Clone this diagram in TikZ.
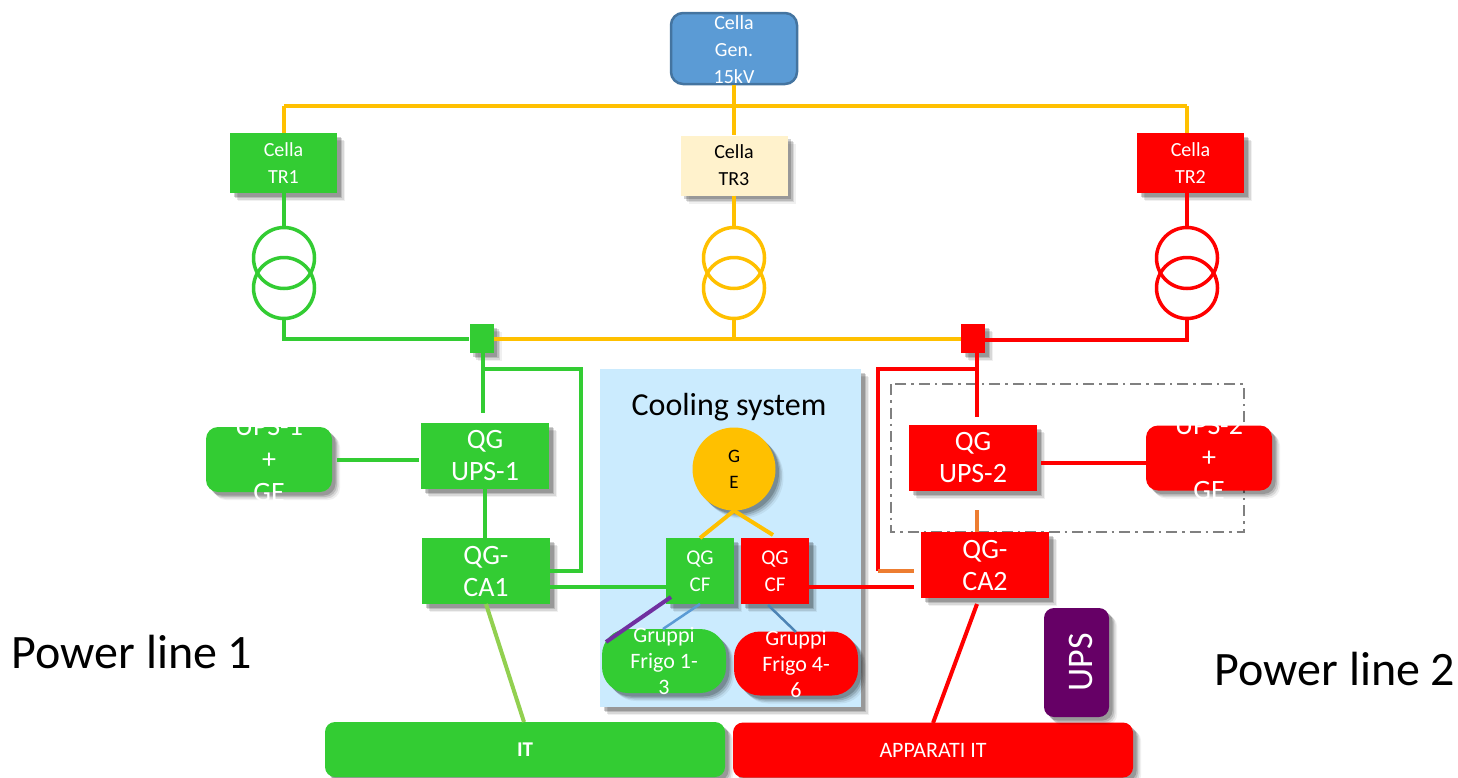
\documentclass[tikz,border=0pt]{standalone}
\usepackage{fontspec}
\setmainfont{Carlito}
\usetikzlibrary{positioning,shadows,calc}
\definecolor{linegreen}{HTML}{33CC33}
\definecolor{linered}{HTML}{FF0000}
\definecolor{lineyellow}{HTML}{FFC000}
\definecolor{lineorange}{HTML}{ED7D31}
\definecolor{lineblue}{HTML}{5B9BD5}
\definecolor{linepurple}{HTML}{7030A0}
\definecolor{linelime}{HTML}{92D050}
\definecolor{cellcream}{HTML}{FFF2CC}
\definecolor{panelblue}{HTML}{CBEBFE}
\definecolor{upspurple}{HTML}{660066}
\tikzset{
  softshadow/.style={
    drop shadow={shadow xshift=8pt,shadow yshift=-8pt,fill=black,opacity=.06},
    drop shadow={shadow xshift=6.5pt,shadow yshift=-6.5pt,fill=black,opacity=.1},
    drop shadow={shadow xshift=5pt,shadow yshift=-5pt,fill=black,opacity=.14},
    drop shadow={shadow xshift=3.5pt,shadow yshift=-3.5pt,fill=black,opacity=.18}},
  cellbox/.style={rectangle, inner sep=0pt, minimum width=107pt, minimum height=60pt, softshadow, align=center, text=white, font=\fontsize{20}{27}\selectfont},
  qgbox/.style={rectangle, inner sep=0pt, minimum width=128pt, minimum height=66pt, softshadow, align=center, text=white, font=\fontsize{28}{32}\selectfont},
  cfbox/.style={rectangle, inner sep=0pt, minimum width=68pt, minimum height=66pt, softshadow, align=center, text=white, font=\fontsize{21}{27}\selectfont},
  upsbox/.style={rectangle, rounded corners=12pt, inner sep=0pt, minimum width=126pt, minimum height=65pt, softshadow},
  upstext/.style={align=center, text=white, inner sep=0pt, font=\fontsize{28}{33}\selectfont},
  frigobox/.style={rectangle, rounded corners=26pt, inner sep=0pt, minimum width=124pt, minimum height=64pt, softshadow},
  frigotext/.style={align=center, text=white, inner sep=0pt, font=\fontsize{22}{26}\selectfont},
  itbox/.style={rectangle, rounded corners=10pt, inner sep=0pt, minimum width=400pt, minimum height=55pt, softshadow, text=white},
  barbox/.style={rectangle, inner sep=0pt, minimum width=24pt, minimum height=29pt, softshadow},
  trafo/.style={circle, draw, line width=3.5pt, inner sep=0pt, minimum size=61pt},
  wire/.style={line width=4pt},
}
\begin{document}
\begin{tikzpicture}[x=1pt,y=-1pt]
\useasboundingbox (0,0) rectangle (1458,777);
\node[rectangle, inner sep=0pt, minimum width=261pt, minimum height=338pt, fill=panelblue, softshadow] (panel) at (730.5,538){};
\node[font=\fontsize{32}{36}\selectfont, inner sep=0pt] (cooling) at (729,407){Cooling system};
\node[font=\fontsize{48}{54}\selectfont, inner sep=0pt] (line1) at (132,652){Power line 1};
\node[font=\fontsize{48}{54}\selectfont, inner sep=0pt] (line2) at (1335,669){Power line 2};
\draw[gray, line width=2.5pt, dash pattern=on 11pt off 5pt on 2.5pt off 5pt] (891,384) rectangle (1244,532);
\node[rectangle, rounded corners=12pt, draw=lineblue!75!black, line width=2.5pt, fill=lineblue, inner sep=0pt, minimum width=126pt, minimum height=71pt, label={[upstext, yshift=-1pt, font=\fontsize{20}{27}\selectfont]center:{Cella\\Gen.\\15kV}}] (gen) at (734,48.5){};
\node[cellbox, fill=linegreen] (tr1) at (283.5,163){Cella\\TR1};
\node[cellbox, fill=cellcream, text=black] (tr3) at (734,165.5){Cella\\TR3};
\node[cellbox, fill=linered] (tr2) at (1190.5,163){Cella\\TR2};
\node[trafo, draw=linegreen] (t1a) at (284,258){};
\node[trafo, draw=linegreen] (t1b) at (284,288){};
\node[trafo, draw=lineyellow] (t3a) at (734,258){};
\node[trafo, draw=lineyellow] (t3b) at (734,288){};
\node[trafo, draw=linered] (t2a) at (1187,258){};
\node[trafo, draw=linered] (t2b) at (1187,288){};
\node[barbox, fill=linegreen] (barg) at (481.5,338.5){};
\node[barbox, fill=linered] (barr) at (973,338.5){};
\node[upsbox, fill=linegreen, label={[upstext]center:{UPS-1\\+\\GE}}] (ups1) at (269,459.5){};
\node[qgbox, fill=linegreen] (qgu1) at (485,456){QG\\UPS-1};
\node[qgbox, fill=linegreen] (ca1) at (486,571){QG-\\CA1};
\node[qgbox, fill=linered] (qgu2) at (973,458){QG\\UPS-2};
\node[upsbox, fill=linered, label={[upstext]center:{UPS-2\\+\\GE}}] (ups2) at (1209,458){};
\node[qgbox, fill=linered] (ca2) at (985,565){QG-\\CA2};
\node[circle, fill=lineyellow, inner sep=0pt, minimum size=83pt, softshadow, align=center, font=\fontsize{19}{26}\selectfont] (ge) at (734,469){G\\E};
\node[cfbox, fill=linegreen] (cf1) at (700,571){QG\\CF};
\node[cfbox, fill=linered] (cf2) at (775,571){QG\\CF};
\node[frigobox, fill=linegreen, label={[frigotext]center:{Gruppi\\Frigo 1-\\3}}] (fr1) at (664,661){};
\node[frigobox, fill=linered, label={[frigotext]center:{Gruppi\\Frigo 4-\\6}}] (fr2) at (796,663.5){};
\node[itbox, fill=linegreen, font=\fontsize{21}{24}\selectfont\bfseries] (it) at (525,749.5){IT};
\node[itbox, fill=linered, font=\fontsize{22}{24}\selectfont] (app) at (933,750){APPARATI IT};
\node[rectangle, rounded corners=10pt, fill=upspurple, inner sep=0pt, minimum width=65pt, minimum height=109pt, softshadow] (upsp) at (1076.5,662.5){};
\node[rotate=90, text=white, inner sep=0pt, font=\fontsize{36}{40}\selectfont] (upst) at (1081,662){UPS};
% medium voltage side
\coordinate (topl) at (284,106);
\coordinate (topr) at (1187,106);
\draw[wire, lineyellow] (topl) -- (topr);
\draw[wire, lineyellow] (topl) -- (topl |- tr1.north);
\draw[wire, lineyellow] (topr) -- (topr |- tr2.north);
\draw[wire, lineyellow] (gen.south) -- (tr3.north);
\draw[wire, linegreen] (t1a |- tr1.south) -- (t1a.north);
\draw[wire, lineyellow] (tr3.south) -- (t3a.north);
\draw[wire, linered] (t2a |- tr2.south) -- (t2a.north);
% bus bar
\coordinate (busg) at (284,339);
\coordinate (busy) at (734,339);
\coordinate (busr) at (1187,340);
\draw[wire, linegreen] (t1b.south) -- (busg) -- (barg.west |- busg);
\draw[wire, lineyellow] (barg.east |- busy) -- (barr.west |- busy);
\draw[wire, lineyellow] (t3b.south) -- (busy);
\draw[wire, linered] (t2b.south) -- (busr) -- (barr.east |- busr);
% line 1
\coordinate (gtop) at (483,353);
\coordinate (gjoin) at (483,369);
\coordinate (gdown) at (483,413);
\coordinate (gturn) at (581,369);
\coordinate (gback) at (581,571);
\coordinate (gcf) at (550,587);
\coordinate (upsa) at (337,460);
\coordinate (upsb) at (419,460);
\draw[wire, linegreen] (gtop) -- (gdown);
\draw[wire, linegreen] (gjoin) -- (gturn) -- (gback) -- (ca1.east |- gback);
\draw[wire, linegreen] (upsa) -- (upsb);
\draw[wire, linegreen] (qgu1.south) -- (qgu1.south |- ca1.north);
\draw[wire, linegreen] (gcf) -- (cf1.west |- gcf);
% line 2
\coordinate (rtop) at (977,353);
\coordinate (rjoin) at (977,369);
\coordinate (rdown) at (977,417);
\coordinate (rturn) at (878,369);
\coordinate (rback) at (878,571);
\coordinate (rstub) at (914,571);
\coordinate (rcfe) at (914,587);
\coordinate (ups2a) at (1041,463);
\coordinate (orga) at (977,510);
\draw[wire, linered] (rtop) -- (rdown);
\draw[wire, linered] (rjoin) -- (rturn) -- (rback);
\draw[wire, lineorange] (rback) -- (rstub);
\draw[wire, lineorange] (orga) -- (orga |- ca2.north);
\draw[wire, linered] (ups2a) -- (ups2.west |- ups2a);
\draw[wire, linered] (cf2.east |- rcfe) -- (rcfe);
% cooling
\coordinate (gel) at (700,538);
\coordinate (ger) at (773,535);
\coordinate (fra) at (700,604);
\coordinate (frb) at (663,629);
\coordinate (frc) at (768,605);
\coordinate (frd) at (796,632);
\coordinate (pura) at (671,597);
\coordinate (purb) at (606,642);
\draw[wire, lineyellow] (ge.south) -- (gel);
\draw[wire, lineyellow] (ge.south) -- (ger);
\draw[line width=2.5pt, lineblue] (fra) -- (frb);
\draw[line width=2.5pt, lineblue!85!black] (frc) -- (frd);
\draw[wire, linepurple] (pura) -- (purb);
% to the IT rooms
\coordinate (ita) at (486,604);
\coordinate (itb) at (524,722);
\coordinate (appa) at (977,604);
\coordinate (appb) at (933,723);
\draw[wire, linelime] (ita) -- (itb);
\draw[wire, linered] (appa) -- (appb);
\end{tikzpicture}
\end{document}
